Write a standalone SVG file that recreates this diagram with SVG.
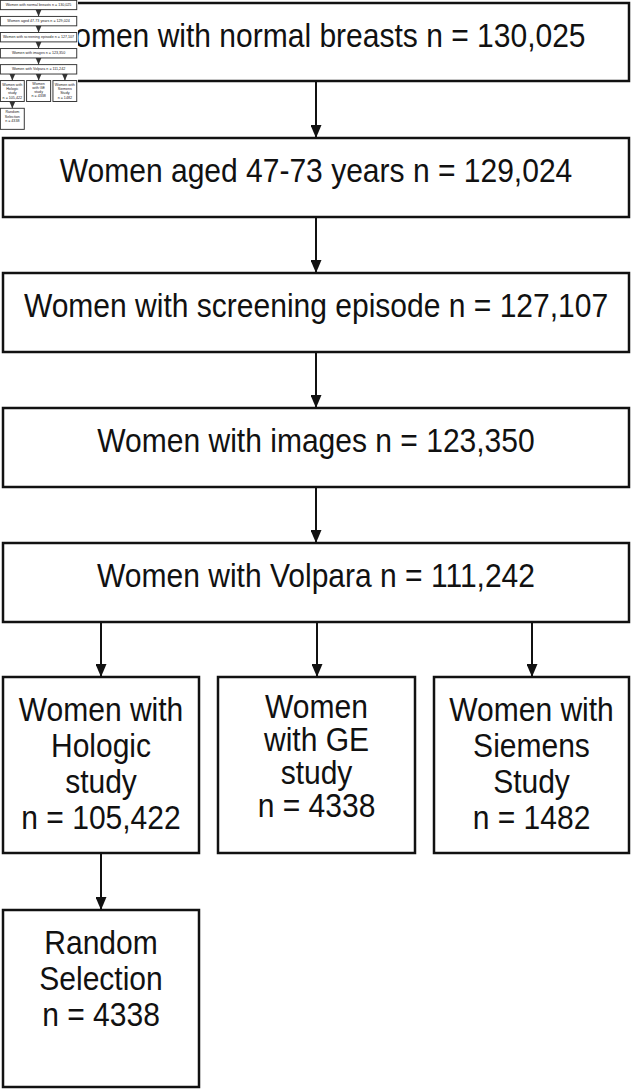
<svg xmlns="http://www.w3.org/2000/svg" width="632" height="1090" viewBox="0 0 632 1090">
  <style>
    .box { fill: #ffffff; stroke: #111111; stroke-width: 2.5; }
    .lbl { font-family: "Liberation Sans", Arial, Helvetica, sans-serif; font-size: 33px; fill: #111111; text-anchor: middle; }
    .conn { stroke: #111111; stroke-width: 2; fill: none; }
    .tbox { fill: #ffffff; stroke: #333333; stroke-width: 8; }
    .tconn { stroke: #333333; stroke-width: 8; fill: none; }
    .tlbl { font-family: "Liberation Sans", Arial, Helvetica, sans-serif; font-size: 30px; fill: #222222; text-anchor: middle; }
  </style>
  <defs>
    <marker id="arrow" viewBox="0 0 13 11" refX="13" refY="5.5" markerWidth="13" markerHeight="11" markerUnits="userSpaceOnUse" orient="auto">
      <path d="M0,0 L13,5.5 L0,11 Z" fill="#111111"/>
    </marker>
    <marker id="tarrow" viewBox="0 0 13 11" refX="13" refY="5.5" markerWidth="13" markerHeight="11" markerUnits="strokeWidth" orient="auto">
      <path d="M0,0 L13,5.5 L0,11 Z" fill="#333333"/>
    </marker>
  </defs>
  <rect x="0" y="0" width="632" height="1090" fill="#ffffff"/>

  <g id="connectors">
    <line class="conn" x1="316" y1="81" x2="316" y2="138" marker-end="url(#arrow)"/>
    <line class="conn" x1="316" y1="217" x2="316" y2="273" marker-end="url(#arrow)"/>
    <line class="conn" x1="316" y1="352" x2="316" y2="408" marker-end="url(#arrow)"/>
    <line class="conn" x1="316" y1="487" x2="316" y2="543" marker-end="url(#arrow)"/>
    <line class="conn" x1="101" y1="622" x2="101" y2="677" marker-end="url(#arrow)"/>
    <line class="conn" x1="317" y1="622" x2="317" y2="677" marker-end="url(#arrow)"/>
    <line class="conn" x1="532" y1="622" x2="532" y2="677" marker-end="url(#arrow)"/>
    <line class="conn" x1="101" y1="853" x2="101" y2="910" marker-end="url(#arrow)"/>
  </g>

  <g id="node-normal">
    <rect class="box" x="3" y="3" width="626" height="78"/>
    <text class="lbl" transform="translate(316 0) scale(0.91 1)" x="0" y="47">Women with normal breasts n = 130,025</text>
  </g>
  <g id="node-aged">
    <rect class="box" x="3" y="138" width="626" height="79"/>
    <text class="lbl" transform="translate(316 0) scale(0.91 1)" x="0" y="182">Women aged 47-73 years n = 129,024</text>
  </g>
  <g id="node-screening">
    <rect class="box" x="3" y="273" width="626" height="79"/>
    <text class="lbl" transform="translate(316 0) scale(0.91 1)" x="0" y="317">Women with screening episode n = 127,107</text>
  </g>
  <g id="node-images">
    <rect class="box" x="3" y="408" width="626" height="79"/>
    <text class="lbl" transform="translate(316 0) scale(0.91 1)" x="0" y="452">Women with images n = 123,350</text>
  </g>
  <g id="node-volpara">
    <rect class="box" x="3" y="543" width="626" height="79"/>
    <text class="lbl" transform="translate(316 0) scale(0.91 1)" x="0" y="587">Women with Volpara n = 111,242</text>
  </g>
  <g id="node-hologic">
    <rect class="box" x="3" y="677" width="196" height="176"/>
    <text class="lbl" transform="translate(101 0) scale(0.91 1)"><tspan x="0" y="721">Women with</tspan><tspan x="0" y="757">Hologic</tspan><tspan x="0" y="793">study</tspan><tspan x="0" y="829">n = 105,422</tspan></text>
  </g>
  <g id="node-ge">
    <rect class="box" x="218" y="677" width="197" height="176"/>
    <text class="lbl" transform="translate(316.5 0) scale(0.91 1)"><tspan x="0" y="718">Women</tspan><tspan x="0" y="751">with GE</tspan><tspan x="0" y="784">study</tspan><tspan x="0" y="817">n = 4338</tspan></text>
  </g>
  <g id="node-siemens">
    <rect class="box" x="434" y="677" width="195" height="176"/>
    <text class="lbl" transform="translate(531.5 0) scale(0.91 1)"><tspan x="0" y="721">Women with</tspan><tspan x="0" y="757">Siemens</tspan><tspan x="0" y="793">Study</tspan><tspan x="0" y="829">n = 1482</tspan></text>
  </g>
  <g id="node-random">
    <rect class="box" x="3" y="910" width="196" height="177"/>
    <text class="lbl" transform="translate(101 0) scale(0.91 1)"><tspan x="0" y="954">Random</tspan><tspan x="0" y="990">Selection</tspan><tspan x="0" y="1026">n = 4338</tspan></text>
  </g>

  <g id="thumbnail">
    <rect x="0" y="0" width="78" height="131" fill="#ffffff"/>
    <g transform="scale(0.122 0.119)">
      <line class="tconn" x1="316" y1="81" x2="316" y2="138" marker-end="url(#tarrow)"/>
      <line class="tconn" x1="316" y1="217" x2="316" y2="273" marker-end="url(#tarrow)"/>
      <line class="tconn" x1="316" y1="352" x2="316" y2="408" marker-end="url(#tarrow)"/>
      <line class="tconn" x1="316" y1="487" x2="316" y2="543" marker-end="url(#tarrow)"/>
      <line class="tconn" x1="101" y1="622" x2="101" y2="677" marker-end="url(#tarrow)"/>
      <line class="tconn" x1="317" y1="622" x2="317" y2="677" marker-end="url(#tarrow)"/>
      <line class="tconn" x1="532" y1="622" x2="532" y2="677" marker-end="url(#tarrow)"/>
      <line class="tconn" x1="101" y1="853" x2="101" y2="910" marker-end="url(#tarrow)"/>
      <rect class="tbox" x="3" y="3" width="626" height="78"/>
      <text class="tlbl" x="316" y="52">Women with normal breasts n = 130,025</text>
      <rect class="tbox" x="3" y="138" width="626" height="79"/>
      <text class="tlbl" x="316" y="187">Women aged 47-73 years n = 129,024</text>
      <rect class="tbox" x="3" y="273" width="626" height="79"/>
      <text class="tlbl" x="316" y="322">Women with screening episode n = 127,107</text>
      <rect class="tbox" x="3" y="408" width="626" height="79"/>
      <text class="tlbl" x="316" y="457">Women with images n = 123,350</text>
      <rect class="tbox" x="3" y="543" width="626" height="79"/>
      <text class="tlbl" x="316" y="592">Women with Volpara n = 111,242</text>
      <rect class="tbox" x="3" y="677" width="196" height="176"/>
      <text class="tlbl"><tspan x="101" y="720">Women with</tspan><tspan x="101" y="756">Hologic</tspan><tspan x="101" y="792">study</tspan><tspan x="101" y="828">n = 105,422</tspan></text>
      <rect class="tbox" x="218" y="677" width="197" height="176"/>
      <text class="tlbl"><tspan x="316.5" y="717">Women</tspan><tspan x="316.5" y="750">with GE</tspan><tspan x="316.5" y="783">study</tspan><tspan x="316.5" y="816">n = 4338</tspan></text>
      <rect class="tbox" x="434" y="677" width="195" height="176"/>
      <text class="tlbl"><tspan x="531.5" y="720">Women with</tspan><tspan x="531.5" y="756">Siemens</tspan><tspan x="531.5" y="792">Study</tspan><tspan x="531.5" y="828">n = 1482</tspan></text>
      <rect class="tbox" x="3" y="910" width="196" height="177"/>
      <text class="tlbl"><tspan x="101" y="953">Random</tspan><tspan x="101" y="989">Selection</tspan><tspan x="101" y="1025">n = 4338</tspan></text>
    </g>
  </g>
</svg>
